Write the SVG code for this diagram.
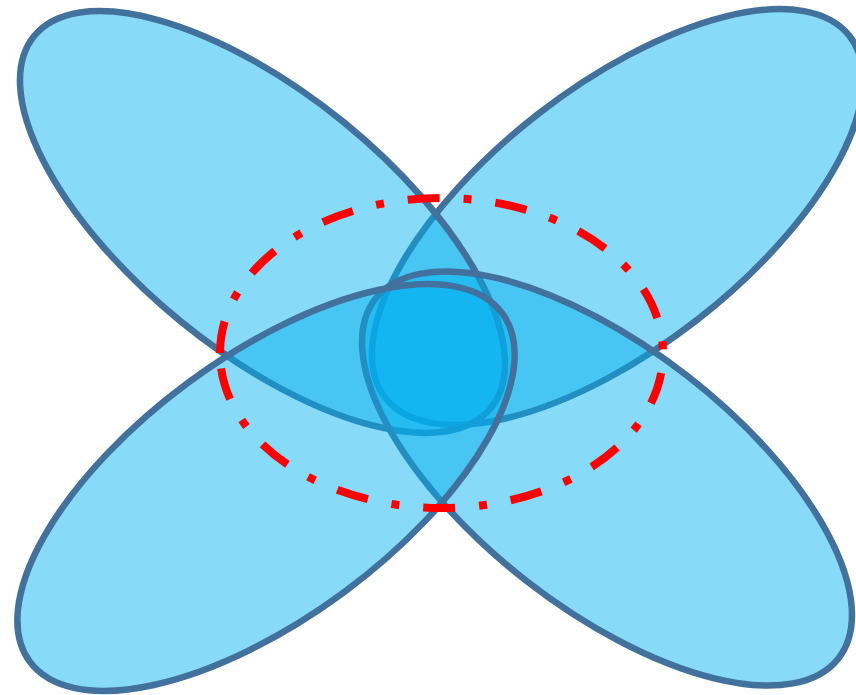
<svg xmlns="http://www.w3.org/2000/svg" width="856" height="695" viewBox="0 0 856 695">
<style>
.petal{fill:#00B0F0;fill-opacity:0.47;stroke:#41719C;stroke-width:6.5}
.ring{fill:none;stroke:#FF0000;stroke-width:8;stroke-dasharray:32 24 8 24}
</style>
<rect width="856" height="695" fill="#FFFFFF"/>
<g id="petal-top-right"><ellipse class="petal" cx="0" cy="0" rx="294.3" ry="130.1" transform="translate(617.5 217) rotate(-37.9)"/></g>
<g id="petal-top-left"><ellipse class="petal" cx="0" cy="0" rx="294.5" ry="128.7" transform="translate(262.5 222) rotate(39.1)"/></g>
<g id="petal-bottom-right"><ellipse class="petal" cx="0" cy="0" rx="293.1" ry="130.3" transform="translate(607 478.5) rotate(37.8)"/></g>
<g id="petal-bottom-left"><ellipse class="petal" cx="0" cy="0" rx="293.5" ry="130.6" transform="translate(266 487.5) rotate(-36.4)"/></g>
<g id="dashed-ring"><path class="ring" d="M220 353 A221.5 155 0 0 1 663 353 A221.5 155 0 0 1 220 353"/></g>
</svg>
